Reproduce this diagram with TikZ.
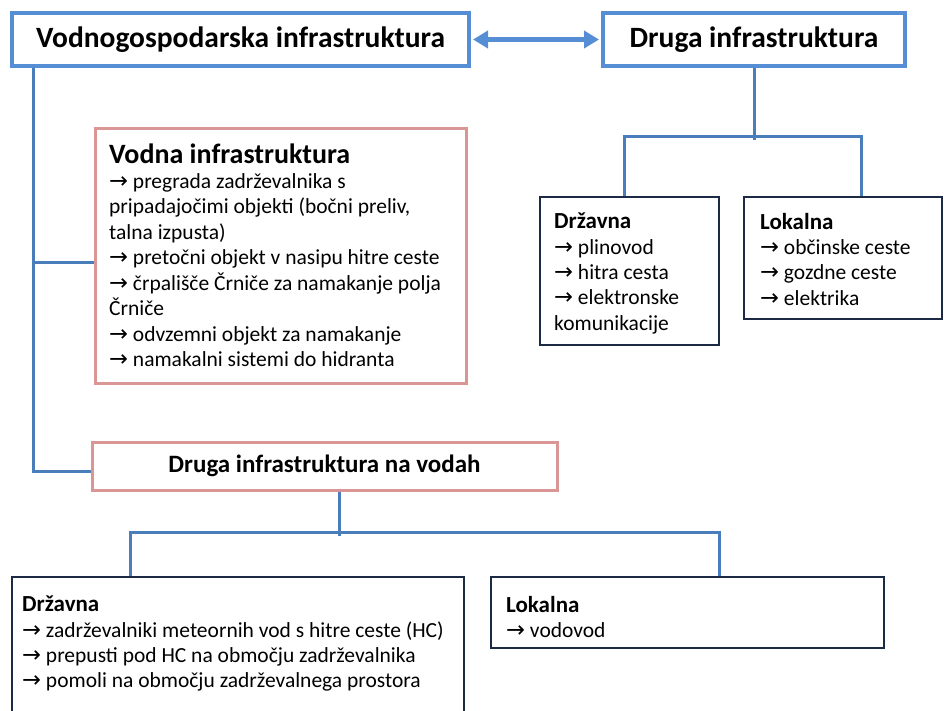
\documentclass[tikz,border=0pt]{standalone}
\usepackage{fontspec}
\setmainfont{Carlito}
\newfontfamily\arrfont{DejaVu Sans}[Scale=1.05]
\newcommand\rarr{{\arrfont →}}
\usetikzlibrary{arrows.meta,calc}
\definecolor{topblue}{HTML}{558ED5}
\definecolor{linkblue}{HTML}{4A7EBB}
\definecolor{pinkb}{HTML}{D99694}
\definecolor{navyb}{HTML}{1C2A45}
\tikzset{
  topbox/.style={draw=topblue, line width=4pt, fill=white, rectangle, inner sep=0pt,
    font=\bfseries\fontsize{29.5}{32}\selectfont},
  pinkbox/.style={draw=pinkb, line width=3pt, fill=white, rectangle, inner sep=0pt},
  navybox/.style={draw=navyb, line width=2.5pt, fill=white, rectangle, inner sep=0pt},
  conn/.style={draw=linkblue, line width=3pt},
  dblarrow/.style={draw=topblue, line width=5pt, {Triangle[length=15pt,width=17pt]}-{Triangle[length=15pt,width=17pt]}},
  txt/.style={anchor=north west, inner sep=0pt, align=left, font=\fontsize{21.5}{25.3}\selectfont},
}
\begin{document}
\begin{tikzpicture}[x=1pt,y=-1pt]
\clip (0,0) rectangle (944,710);
\fill[white] (0,0) rectangle (944,710);

% boxes
\node[topbox, minimum width=457pt, minimum height=53pt] (A) at (240.5,39.5) {Vodnogospodarska infrastruktura};
\node[topbox, minimum width=302pt, minimum height=53pt] (B) at (754,39.5) {Druga infrastruktura};
\node[pinkbox, minimum width=371pt, minimum height=255pt] (C) at (280.5,255.5) {};
\node[pinkbox, minimum width=465pt, minimum height=48pt, font=\bfseries\fontsize{25}{28}\selectfont] (D) at (324.5,466) {Druga infrastruktura na vodah};
\node[navybox, minimum width=179pt, minimum height=148pt] (E) at (629.5,271) {};
\node[navybox, minimum width=198pt, minimum height=122pt] (F) at (843,258) {};
\node[navybox, minimum width=452pt, minimum height=153pt] (G) at (238,653.5) {};
\node[navybox, minimum width=393pt, minimum height=71pt] (H) at (687.5,612.5) {};

% texts
\node[txt, font=\fontsize{21.5}{25.5}\selectfont] (Ct) at (109,144) {{\bfseries\fontsize{28}{25}\selectfont Vodna infrastruktura}\\[-1pt]
\rarr{} pregrada zadrževalnika s\\
pripadajočimi objekti (bočni preliv,\\
talna izpusta)\\
\rarr{} pretočni objekt v nasipu hitre ceste\\
\rarr{} črpališče Črniče za namakanje polja\\
Črniče\\
\rarr{} odvzemni objekt za namakanje\\
\rarr{} namakalni sistemi do hidranta};
\node[txt] (Et) at (554,213) {{\bfseries\fontsize{23}{25.3}\selectfont Državna}\\
\rarr{} plinovod\\
\rarr{} hitra cesta\\
\rarr{} elektronske\\
komunikacije};
\node[txt] (Ft) at (760,213) {{\bfseries\fontsize{23}{25.3}\selectfont Lokalna}\\
\rarr{} občinske ceste\\
\rarr{} gozdne ceste\\
\rarr{} elektrika};
\node[txt] (Gt) at (22,596) {{\bfseries\fontsize{23}{25.3}\selectfont Državna}\\
\rarr{} zadrževalniki meteornih vod s hitre ceste (HC)\\
\rarr{} prepusti pod HC na območju zadrževalnika\\
\rarr{} pomoli na območju zadrževalnega prostora};
\node[txt] (Ht) at (506,596) {{\bfseries\fontsize{23}{25.3}\selectfont Lokalna}\\
\rarr{} vodovod};

% connectors
\draw[dblarrow] ([xshift=2pt]A.east) -- ([xshift=-2pt]B.west);
\draw[conn] ([xshift=23pt]A.south west) |- ($(D.west)+(0,5)$);
\draw[conn] ($(C.west)+(0,6.5)$) -- ++(-60,0);
\draw[conn] (B.south) -- ++(0,72);
\draw[conn] ($(E.north)+(-5.5,0)$) -- ++(0,-59) -| ($(F.north)+(18,0)$);
\draw[conn] ($(D.south)+(14.5,0)$) -- ++(0,44);
\draw[conn] ($(G.north)+(-108,0)$) -- ++(0,-43) -| ($(H.north)+(31.5,0)$);
\end{tikzpicture}
\end{document}
